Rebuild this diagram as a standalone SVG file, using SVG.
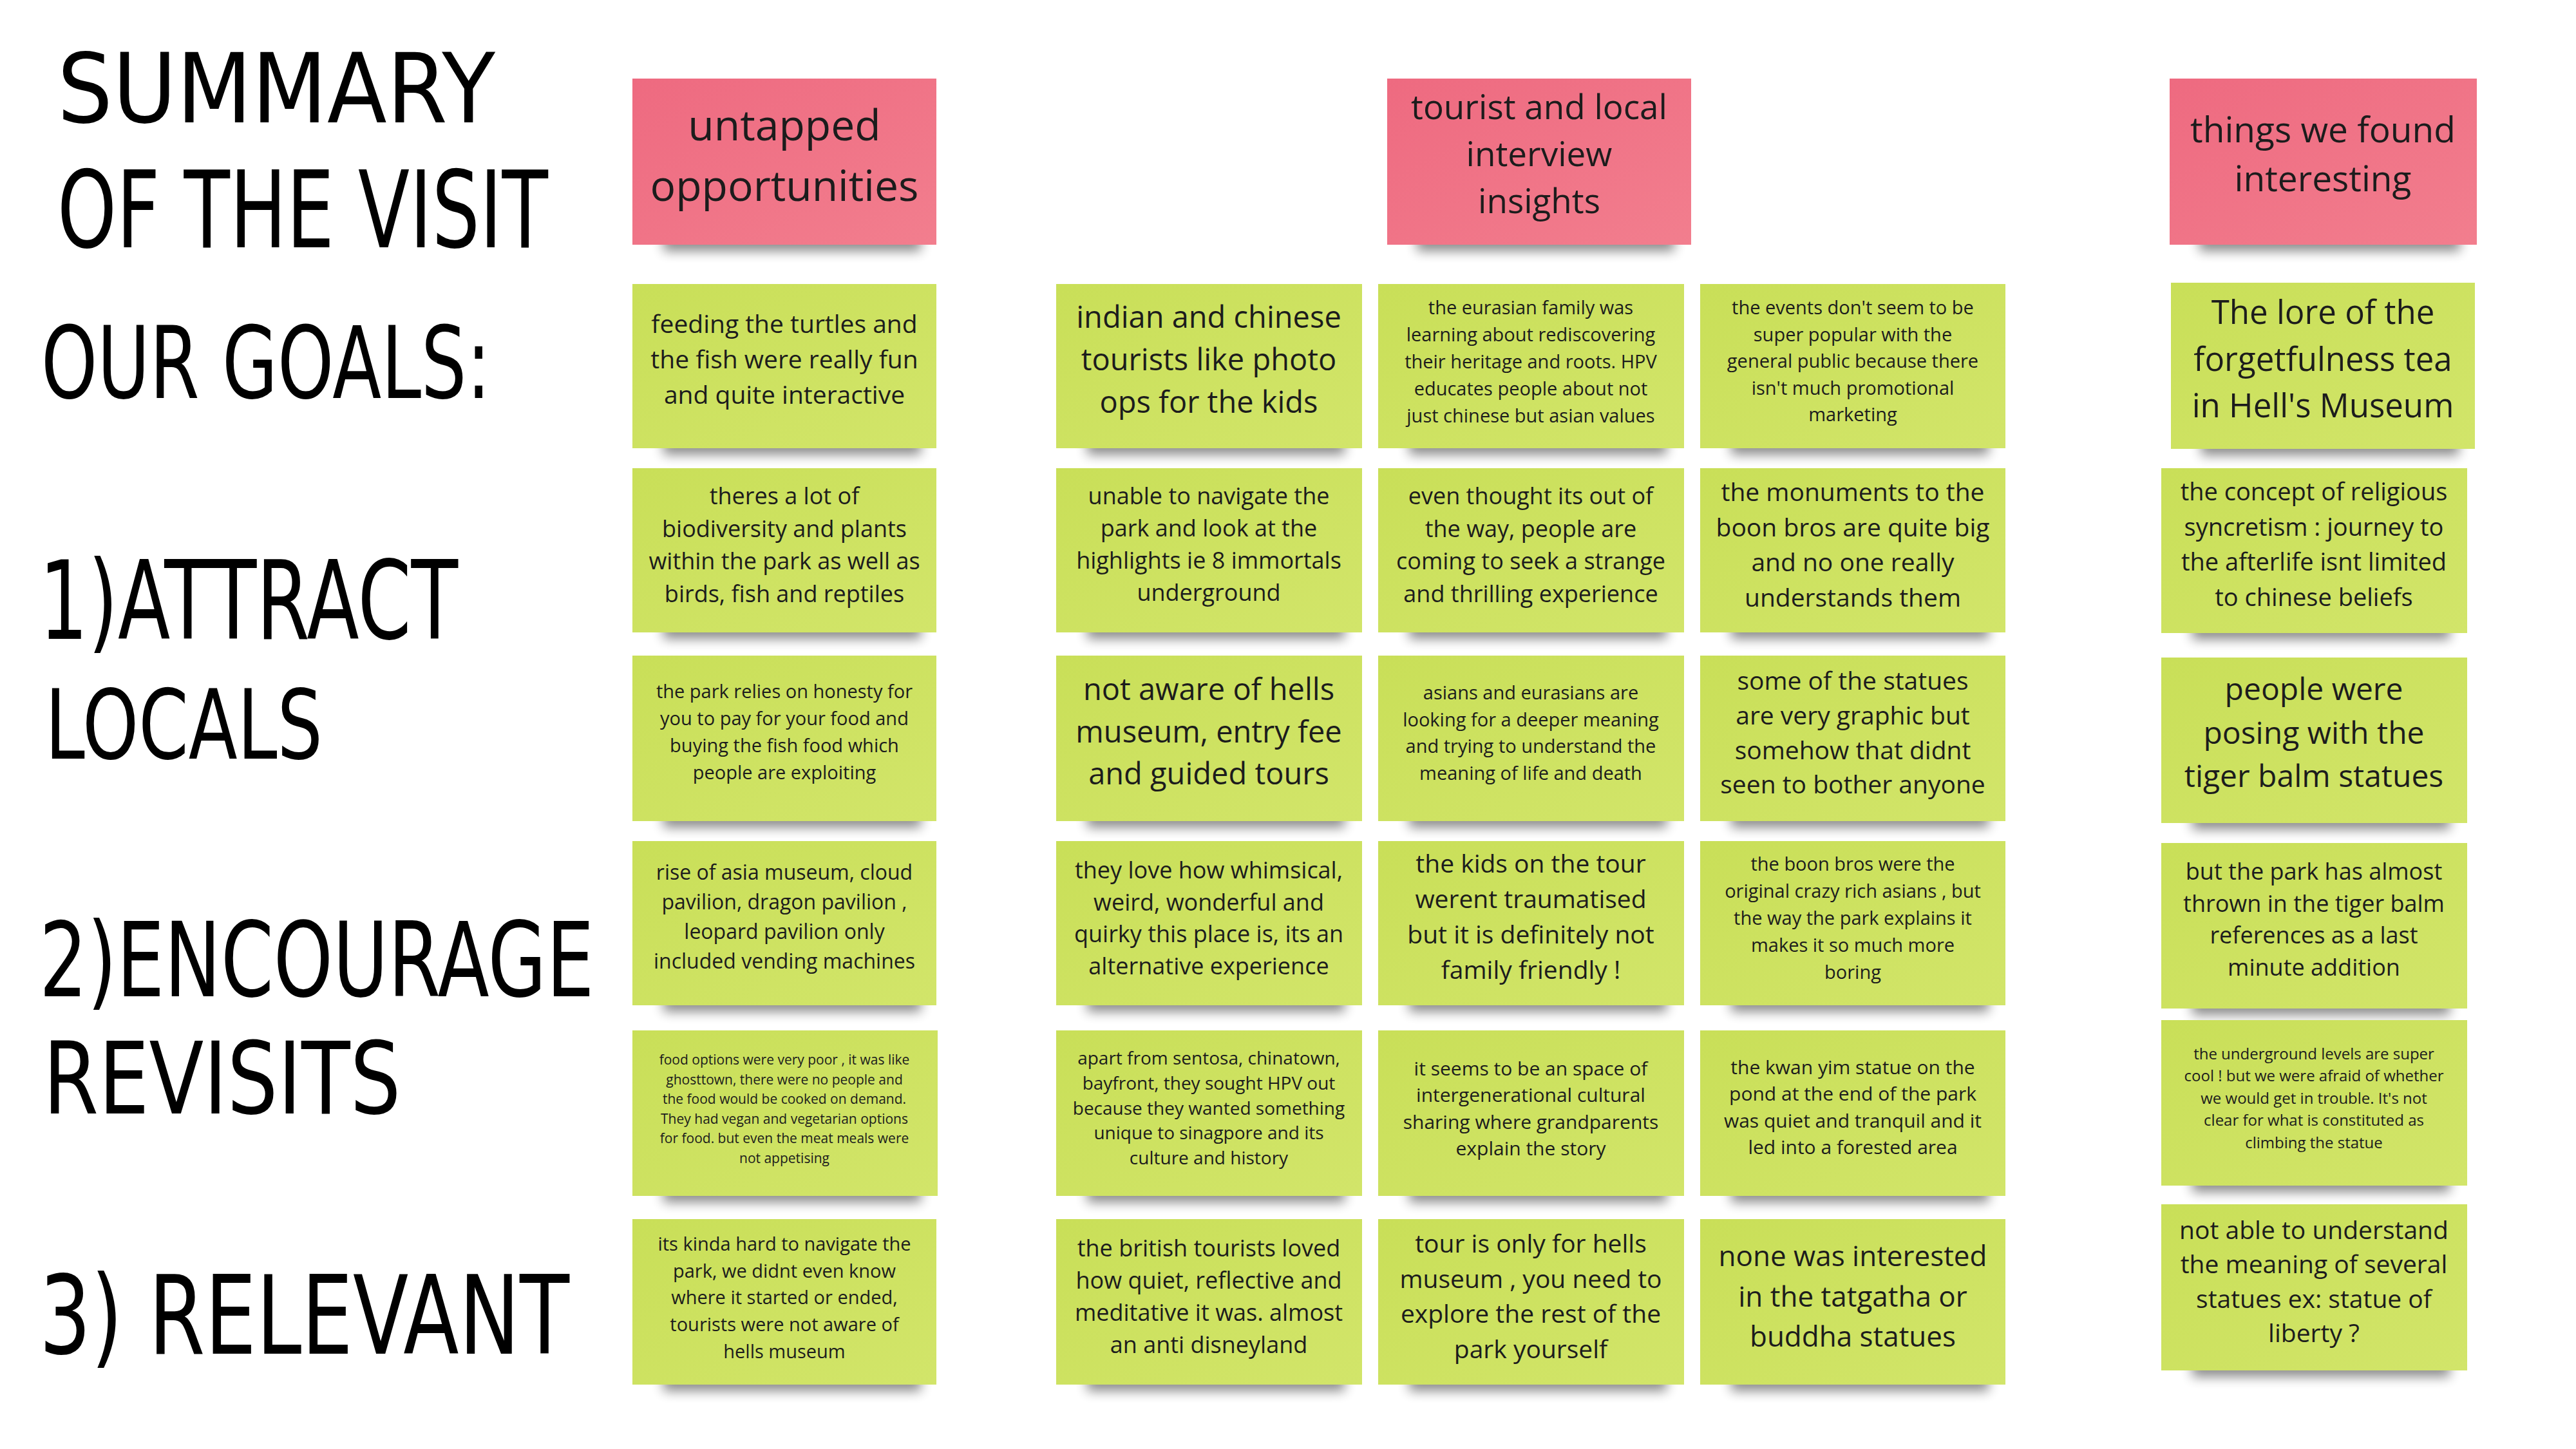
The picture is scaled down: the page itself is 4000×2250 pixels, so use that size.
<svg xmlns="http://www.w3.org/2000/svg" width="4000" height="2250" viewBox="0 0 4000 2250">
<defs>
<linearGradient id="pg" x1="0" y1="0" x2="1" y2="1"><stop offset="0" stop-color="#EE6A80"/><stop offset="1" stop-color="#F27E8E"/></linearGradient>
<linearGradient id="gg" x1="0" y1="0" x2="1" y2="1"><stop offset="0" stop-color="#C9DF58"/><stop offset="1" stop-color="#D2E56A"/></linearGradient>
<filter id="blur" x="-20%" y="-100%" width="140%" height="300%"><feGaussianBlur stdDeviation="9"/></filter>
<style>
.p{fill:url(#pg)}
.g{fill:url(#gg)}
.sh{fill:#000;opacity:.45;filter:url(#blur)}
.t{font-family:'Open Sans','Noto Sans',sans-serif;fill:#1c1c1c;text-anchor:middle}
.h{font-family:'DejaVu Sans',sans-serif;fill:#000}
</style>
</defs>
<rect width="4000" height="2250" fill="#fff"/>

<g id="title">
<text class="h" transform="scale(0.89,1)" x="100" y="190" font-size="150" textLength="764" lengthAdjust="spacingAndGlyphs">SUMMARY</text>
<text class="h" transform="scale(0.71,1)" x="125.4" y="384" font-size="165" textLength="1073" lengthAdjust="spacingAndGlyphs">OF THE VISIT</text>
<text class="h" transform="scale(0.714,1)" x="89.6" y="618" font-size="155" textLength="977.6" lengthAdjust="spacingAndGlyphs">OUR GOALS:</text>
<text class="h" transform="scale(0.68,1)" x="89.7" y="992" font-size="170" textLength="956" lengthAdjust="spacingAndGlyphs">1)ATTRACT</text>
<text class="h" transform="scale(0.733,1)" x="95.5" y="1178" font-size="150" textLength="588" lengthAdjust="spacingAndGlyphs">LOCALS</text>
<text class="h" transform="scale(0.727,1)" x="83.9" y="1547" font-size="160" textLength="1185" lengthAdjust="spacingAndGlyphs">2)ENCOURAGE</text>
<text class="h" transform="scale(0.799,1)" x="83.9" y="1729" font-size="155" textLength="695" lengthAdjust="spacingAndGlyphs">REVISITS</text>
<text class="h" transform="scale(0.735,1)" x="83" y="2102" font-size="170" textLength="1120" lengthAdjust="spacingAndGlyphs">3) RELEVANT</text>
</g>

<g id="connectors"></g>

<g id="h1"><rect class="sh" x="1030" y="360" width="400" height="30"/><rect class="p" x="982" y="122" width="472" height="258"/>
<text class="t" font-size="66" y="218"><tspan x="1218">untapped</tspan><tspan x="1218" dy="94">opportunities</tspan></text></g>
<g id="h2"><rect class="sh" x="2200" y="360" width="400" height="30"/><rect class="p" x="2154" y="122" width="472" height="258"/>
<text class="t" font-size="53" y="185"><tspan x="2390">tourist and local</tspan><tspan x="2390" dy="73">interview</tspan><tspan x="2390" dy="73">insights</tspan></text></g>
<g id="h3"><rect class="sh" x="3415" y="360" width="405" height="30"/><rect class="p" x="3369" y="122" width="477" height="258"/>
<text class="t" font-size="55" y="221"><tspan x="3607">things we found</tspan><tspan x="3607" dy="76">interesting</tspan></text></g>

<!-- column 1 -->
<g id="c1n1"><rect class="sh" x="1030" y="676" width="400" height="30"/><rect class="g" x="982" y="441" width="472" height="255"/>
<text class="t" font-size="39" y="517"><tspan x="1218">feeding the turtles and</tspan><tspan x="1218" dy="55">the fish were really fun</tspan><tspan x="1218" dy="55">and quite interactive</tspan></text></g>
<g id="c1n2"><rect class="sh" x="1030" y="962" width="400" height="30"/><rect class="g" x="982" y="727" width="472" height="255"/>
<text class="t" font-size="36" y="783"><tspan x="1218">theres a lot of</tspan><tspan x="1218" dy="50.7">biodiversity and plants</tspan><tspan x="1218" dy="50.7">within the park as well as</tspan><tspan x="1218" dy="50.7">birds, fish and reptiles</tspan></text></g>
<g id="c1n3"><rect class="sh" x="1030" y="1255" width="400" height="30"/><rect class="g" x="982" y="1018" width="472" height="257"/>
<text class="t" font-size="29" y="1084"><tspan x="1218">the park relies on honesty for</tspan><tspan x="1218" dy="42">you to pay for your food and</tspan><tspan x="1218" dy="42">buying the fish food which</tspan><tspan x="1218" dy="42">people are exploiting</tspan></text></g>
<g id="c1n4"><rect class="sh" x="1030" y="1541" width="400" height="30"/><rect class="g" x="982" y="1306" width="472" height="255"/>
<text class="t" font-size="32" y="1366"><tspan x="1218">rise of asia museum, cloud</tspan><tspan x="1218" dy="46">pavilion, dragon pavilion ,</tspan><tspan x="1218" dy="46">leopard pavilion only</tspan><tspan x="1218" dy="46">included vending machines</tspan></text></g>
<g id="c1n5"><rect class="sh" x="1030" y="1837" width="400" height="30"/><rect class="g" x="982" y="1600" width="474" height="257"/>
<text class="t" font-size="21" y="1653"><tspan x="1218">food options were very poor , it was like</tspan><tspan x="1218" dy="30.6">ghosttown, there were no people and</tspan><tspan x="1218" dy="30.6">the food would be cooked on demand.</tspan><tspan x="1218" dy="30.6">They had vegan and vegetarian options</tspan><tspan x="1218" dy="30.6">for food. but even the meat meals were</tspan><tspan x="1218" dy="30.6">not appetising</tspan></text></g>
<g id="c1n6"><rect class="sh" x="1030" y="2130" width="400" height="30"/><rect class="g" x="982" y="1893" width="472" height="257"/>
<text class="t" font-size="29" y="1942"><tspan x="1218">its kinda hard to navigate the</tspan><tspan x="1218" dy="41.7">park, we didnt even know</tspan><tspan x="1218" dy="41.7">where it started or ended,</tspan><tspan x="1218" dy="41.7">tourists were not aware of</tspan><tspan x="1218" dy="41.7">hells museum</tspan></text></g>

<!-- column 2 -->
<g id="c2n1"><rect class="sh" x="1688" y="676" width="400" height="30"/><rect class="g" x="1640" y="441" width="475" height="255"/>
<text class="t" font-size="47" y="509"><tspan x="1877">indian and chinese</tspan><tspan x="1877" dy="66">tourists like photo</tspan><tspan x="1877" dy="66">ops for the kids</tspan></text></g>
<g id="c2n2"><rect class="sh" x="1688" y="962" width="400" height="30"/><rect class="g" x="1640" y="727" width="475" height="255"/>
<text class="t" font-size="36" y="783"><tspan x="1877">unable to navigate the</tspan><tspan x="1877" dy="50">park and look at the</tspan><tspan x="1877" dy="50">highlights ie 8 immortals</tspan><tspan x="1877" dy="50">underground</tspan></text></g>
<g id="c2n3"><rect class="sh" x="1688" y="1255" width="400" height="30"/><rect class="g" x="1640" y="1018" width="475" height="257"/>
<text class="t" font-size="47" y="1087"><tspan x="1877">not aware of hells</tspan><tspan x="1877" dy="65.5">museum, entry fee</tspan><tspan x="1877" dy="65.5">and guided tours</tspan></text></g>
<g id="c2n4"><rect class="sh" x="1688" y="1541" width="400" height="30"/><rect class="g" x="1640" y="1306" width="475" height="255"/>
<text class="t" font-size="36" y="1364"><tspan x="1877">they love how whimsical,</tspan><tspan x="1877" dy="49.7">weird, wonderful and</tspan><tspan x="1877" dy="49.7">quirky this place is, its an</tspan><tspan x="1877" dy="49.7">alternative experience</tspan></text></g>
<g id="c2n5"><rect class="sh" x="1688" y="1837" width="400" height="30"/><rect class="g" x="1640" y="1600" width="475" height="257"/>
<text class="t" font-size="28" y="1653"><tspan x="1877">apart from sentosa, chinatown,</tspan><tspan x="1877" dy="38.8">bayfront, they sought HPV out</tspan><tspan x="1877" dy="38.8">because they wanted something</tspan><tspan x="1877" dy="38.8">unique to sinagpore and its</tspan><tspan x="1877" dy="38.8">culture and history</tspan></text></g>
<g id="c2n6"><rect class="sh" x="1688" y="2130" width="400" height="30"/><rect class="g" x="1640" y="1893" width="475" height="257"/>
<text class="t" font-size="36" y="1951"><tspan x="1877">the british tourists loved</tspan><tspan x="1877" dy="50">how quiet, reflective and</tspan><tspan x="1877" dy="50">meditative it was. almost</tspan><tspan x="1877" dy="50">an anti disneyland</tspan></text></g>

<!-- column 3 -->
<g id="c3n1"><rect class="sh" x="2188" y="676" width="400" height="30"/><rect class="g" x="2140" y="441" width="475" height="255"/>
<text class="t" font-size="29" y="488"><tspan x="2377">the eurasian family was</tspan><tspan x="2377" dy="42">learning about rediscovering</tspan><tspan x="2377" dy="42">their heritage and roots. HPV</tspan><tspan x="2377" dy="42">educates people about not</tspan><tspan x="2377" dy="42">just chinese but asian values</tspan></text></g>
<g id="c3n2"><rect class="sh" x="2188" y="962" width="400" height="30"/><rect class="g" x="2140" y="727" width="475" height="255"/>
<text class="t" font-size="36" y="783"><tspan x="2377">even thought its out of</tspan><tspan x="2377" dy="50.7">the way, people are</tspan><tspan x="2377" dy="50.7">coming to seek a strange</tspan><tspan x="2377" dy="50.7">and thrilling experience</tspan></text></g>
<g id="c3n3"><rect class="sh" x="2188" y="1255" width="400" height="30"/><rect class="g" x="2140" y="1018" width="475" height="257"/>
<text class="t" font-size="29" y="1086"><tspan x="2377">asians and eurasians are</tspan><tspan x="2377" dy="41.7">looking for a deeper meaning</tspan><tspan x="2377" dy="41.7">and trying to understand the</tspan><tspan x="2377" dy="41.7">meaning of life and death</tspan></text></g>
<g id="c3n4"><rect class="sh" x="2188" y="1541" width="400" height="30"/><rect class="g" x="2140" y="1306" width="475" height="255"/>
<text class="t" font-size="39" y="1355"><tspan x="2377">the kids on the tour</tspan><tspan x="2377" dy="55">werent traumatised</tspan><tspan x="2377" dy="55">but it is definitely not</tspan><tspan x="2377" dy="55">family friendly !</tspan></text></g>
<g id="c3n5"><rect class="sh" x="2188" y="1837" width="400" height="30"/><rect class="g" x="2140" y="1600" width="475" height="257"/>
<text class="t" font-size="30" y="1670"><tspan x="2377">it seems to be an space of</tspan><tspan x="2377" dy="41.4">intergenerational cultural</tspan><tspan x="2377" dy="41.4">sharing where grandparents</tspan><tspan x="2377" dy="41.4">explain the story</tspan></text></g>
<g id="c3n6"><rect class="sh" x="2188" y="2130" width="400" height="30"/><rect class="g" x="2140" y="1893" width="475" height="257"/>
<text class="t" font-size="39" y="1945"><tspan x="2377">tour is only for hells</tspan><tspan x="2377" dy="54.7">museum , you need to</tspan><tspan x="2377" dy="54.7">explore the rest of the</tspan><tspan x="2377" dy="54.7">park yourself</tspan></text></g>

<!-- column 4 -->
<g id="c4n1"><rect class="sh" x="2688" y="676" width="400" height="30"/><rect class="g" x="2640" y="441" width="474" height="255"/>
<text class="t" font-size="29" y="488"><tspan x="2877">the events don't seem to be</tspan><tspan x="2877" dy="41.6">super popular with the</tspan><tspan x="2877" dy="41.6">general public because there</tspan><tspan x="2877" dy="41.6">isn't much promotional</tspan><tspan x="2877" dy="41.6">marketing</tspan></text></g>
<g id="c4n2"><rect class="sh" x="2688" y="962" width="400" height="30"/><rect class="g" x="2640" y="727" width="474" height="255"/>
<text class="t" font-size="39" y="778"><tspan x="2877">the monuments to the</tspan><tspan x="2877" dy="54.7">boon bros are quite big</tspan><tspan x="2877" dy="54.7">and no one really</tspan><tspan x="2877" dy="54.7">understands them</tspan></text></g>
<g id="c4n3"><rect class="sh" x="2688" y="1255" width="400" height="30"/><rect class="g" x="2640" y="1018" width="474" height="257"/>
<text class="t" font-size="39" y="1071"><tspan x="2877">some of the statues</tspan><tspan x="2877" dy="53.8">are very graphic but</tspan><tspan x="2877" dy="53.8">somehow that didnt</tspan><tspan x="2877" dy="53.8">seen to bother anyone</tspan></text></g>
<g id="c4n4"><rect class="sh" x="2688" y="1541" width="400" height="30"/><rect class="g" x="2640" y="1306" width="474" height="255"/>
<text class="t" font-size="29" y="1352"><tspan x="2877">the boon bros were the</tspan><tspan x="2877" dy="42">original crazy rich asians , but</tspan><tspan x="2877" dy="42">the way the park explains it</tspan><tspan x="2877" dy="42">makes it so much more</tspan><tspan x="2877" dy="42">boring</tspan></text></g>
<g id="c4n5"><rect class="sh" x="2688" y="1837" width="400" height="30"/><rect class="g" x="2640" y="1600" width="474" height="257"/>
<text class="t" font-size="30" y="1668"><tspan x="2877">the kwan yim statue on the</tspan><tspan x="2877" dy="41.4">pond at the end of the park</tspan><tspan x="2877" dy="41.4">was quiet and tranquil and it</tspan><tspan x="2877" dy="41.4">led into a forested area</tspan></text></g>
<g id="c4n6"><rect class="sh" x="2688" y="2130" width="400" height="30"/><rect class="g" x="2640" y="1893" width="474" height="257"/>
<text class="t" font-size="44" y="1966"><tspan x="2877">none was interested</tspan><tspan x="2877" dy="62.5">in the tatgatha or</tspan><tspan x="2877" dy="62.5">buddha statues</tspan></text></g>

<!-- column 5 -->
<g id="c5n1"><rect class="sh" x="3418" y="677" width="400" height="30"/><rect class="g" x="3371" y="439" width="472" height="258"/>
<text class="t" font-size="51" y="503"><tspan x="3607">The lore of the</tspan><tspan x="3607" dy="72.7">forgetfulness tea</tspan><tspan x="3607" dy="72.7">in Hell's Museum</tspan></text></g>
<g id="c5n2"><rect class="sh" x="3404" y="963" width="400" height="30"/><rect class="g" x="3356" y="727" width="475" height="256"/>
<text class="t" font-size="38" y="777"><tspan x="3593">the concept of religious</tspan><tspan x="3593" dy="54.7">syncretism : journey to</tspan><tspan x="3593" dy="54.7">the afterlife isnt limited</tspan><tspan x="3593" dy="54.7">to chinese beliefs</tspan></text></g>
<g id="c5n3"><rect class="sh" x="3404" y="1258" width="400" height="30"/><rect class="g" x="3356" y="1021" width="475" height="257"/>
<text class="t" font-size="48" y="1087"><tspan x="3593">people were</tspan><tspan x="3593" dy="67.5">posing with the</tspan><tspan x="3593" dy="67.5">tiger balm statues</tspan></text></g>
<g id="c5n4"><rect class="sh" x="3404" y="1546" width="400" height="30"/><rect class="g" x="3356" y="1309" width="475" height="257"/>
<text class="t" font-size="36" y="1366"><tspan x="3593">but the park has almost</tspan><tspan x="3593" dy="49.7">thrown in the tiger balm</tspan><tspan x="3593" dy="49.7">references as a last</tspan><tspan x="3593" dy="49.7">minute addition</tspan></text></g>
<g id="c5n5"><rect class="sh" x="3404" y="1821" width="400" height="30"/><rect class="g" x="3356" y="1584" width="475" height="257"/>
<text class="t" font-size="24" y="1645"><tspan x="3593">the underground levels are super</tspan><tspan x="3593" dy="34.4">cool ! but we were afraid of whether</tspan><tspan x="3593" dy="34.4">we would get in trouble. It's not</tspan><tspan x="3593" dy="34.4">clear for what is constituted as</tspan><tspan x="3593" dy="34.4">climbing the statue</tspan></text></g>
<g id="c5n6"><rect class="sh" x="3404" y="2108" width="400" height="30"/><rect class="g" x="3356" y="1870" width="475" height="258"/>
<text class="t" font-size="39" y="1924"><tspan x="3593">not able to understand</tspan><tspan x="3593" dy="53.3">the meaning of several</tspan><tspan x="3593" dy="53.3">statues ex: statue of</tspan><tspan x="3593" dy="53.3">liberty ?</tspan></text></g>
</svg>
